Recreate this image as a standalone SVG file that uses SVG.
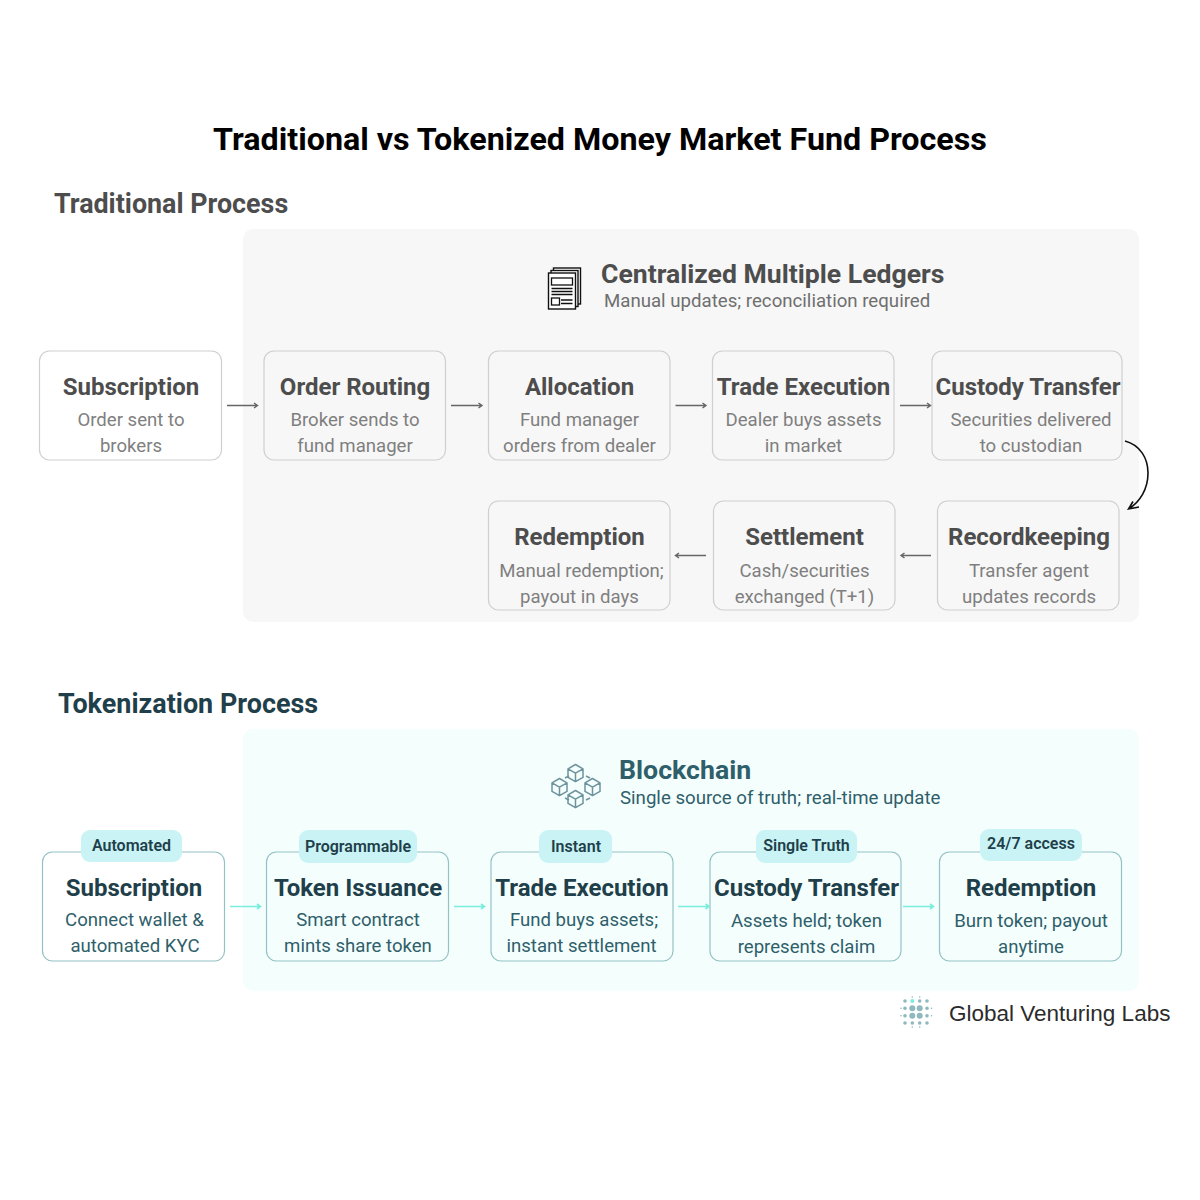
<svg xmlns="http://www.w3.org/2000/svg" width="1200" height="1200" viewBox="0 0 1200 1200">
<style>
text{font-family:Roboto,"Liberation Sans",sans-serif}
.m{text-anchor:middle}
.n{fill:none;stroke:#cfcfcf;stroke-width:1.2}
.b{stroke:#93c2c5;stroke-width:1.2;fill:none}
.t1{font-size:24px;font-weight:700;fill:#4d4d4d;text-anchor:middle}
.s1{font-size:18.6px;fill:#7f7f7f;text-anchor:middle}
.t2{font-size:24px;font-weight:700;fill:#1f3f4a;text-anchor:middle}
.s2{font-size:18.6px;fill:#2f5f6b;text-anchor:middle}
.p{fill:#c9f3f5}
.pt{font-size:16px;font-weight:600;fill:#1f3f4a;text-anchor:middle}
.a1{fill:none;stroke:#666;stroke-width:1.4}
.a2{fill:none;stroke:#7aeedd;stroke-width:1.6}
.ic{fill:none;stroke:#6d939e;stroke-width:1.5;stroke-linejoin:round}
.ik{fill:#fff;stroke:#111;stroke-width:1.4}
.il{fill:none;stroke:#111;stroke-width:1.3}
.d{fill:#8fb9bd}
</style>
<rect width="1200" height="1200" fill="#fff"/>
<text x="600" y="150" class="m" font-size="32.25" font-weight="700" fill="#000">Traditional vs Tokenized Money Market Fund Process</text>
<text x="54" y="212.500" font-size="26.85" font-weight="700" fill="#4d4d4d">Traditional Process</text>
<text x="58" y="712.500" font-size="26.95" font-weight="700" fill="#1f3f4a">Tokenization Process</text>

<g id="panel-traditional">
<rect x="243" y="229" width="896" height="393" rx="10" fill="#f7f7f7"/>
<g id="ledger-icon">
<rect x="553.500" y="268" width="27" height="36" class="ik"/>
<rect x="551" y="270.500" width="27" height="36" class="ik"/>
<rect x="548.500" y="273" width="27" height="36" class="ik"/>
<rect x="551.500" y="278" width="21" height="7" class="il"/>
<path d="M551.500 288.500H572.500M551.500 291.500H572.500M551.500 294.500H572.500M561 300H572.500M561 303.500H572.500" class="il"/>
<rect x="551.500" y="298" width="8" height="7" class="il"/>
</g>
<text x="601" y="283" font-size="26.6" font-weight="700" fill="#4d4d4d">Centralized Multiple Ledgers</text>
<text x="604" y="307" font-size="18.65" fill="#6f6f6f">Manual updates; reconciliation required</text>
</g>

<g id="panel-tokenization">
<rect x="243" y="729" width="896" height="262" rx="10" fill="#f4fefd"/>
<g id="blockchain-icon">
<path d="M565 778l4-2M586 776l4 2M565 798l4 2M586 800l4-2" class="ic"/>
<path d="M575.500 764.500l7.500 4.300v8.600l-7.500 4.300-7.500-4.300v-8.600zM568 768.800l7.500 4.300 7.500-4.300M575.500 773.100v8.600" class="ic"/>
<path d="M559.500 778.500l7.500 4.300v8.600l-7.500 4.300-7.500-4.300v-8.600zM552 782.800l7.500 4.300 7.500-4.300M559.500 787.100v8.600" class="ic"/>
<path d="M592.500 778.500l7.500 4.300v8.600l-7.500 4.300-7.500-4.300v-8.600zM585 782.800l7.500 4.300 7.500-4.300M592.500 787.100v8.600" class="ic"/>
<path d="M575.500 790.500l7.500 4.300v8.600l-7.500 4.300-7.500-4.300v-8.600zM568 794.800l7.500 4.300 7.500-4.300M575.500 799.100v8.600" class="ic"/>
</g>
<text x="619" y="778.500" font-size="26.7" font-weight="700" fill="#2f5f6b">Blockchain</text>
<text x="620" y="804" font-size="18.65" fill="#2f5f6b">Single source of truth; real-time update</text>
</g>

<g id="t-subscription"><rect class="n" x="39.500" y="351" width="182" height="109" rx="10"/><text x="131" y="395" class="t1">Subscription</text><text x="131" y="426" class="s1">Order sent to</text><text x="131" y="452" class="s1">brokers</text></g>
<g id="t-order-routing"><rect class="n" x="264" y="351" width="181.500" height="109" rx="10"/><text x="355" y="395" class="t1">Order Routing</text><text x="355" y="426" class="s1">Broker sends to</text><text x="355" y="452" class="s1">fund manager</text></g>
<g id="t-allocation"><rect class="n" x="488.500" y="351" width="181.500" height="109" rx="10"/><text x="579.500" y="395" class="t1">Allocation</text><text x="579.500" y="426" class="s1">Fund manager</text><text x="579.500" y="452" class="s1">orders from dealer</text></g>
<g id="t-trade-execution"><rect class="n" x="712.500" y="351" width="181.500" height="109" rx="10"/><text x="803.500" y="395" class="t1">Trade Execution</text><text x="803.500" y="426" class="s1">Dealer buys assets</text><text x="803.500" y="452" class="s1">in market</text></g>
<g id="t-custody-transfer"><rect class="n" x="932" y="351" width="190" height="109" rx="10"/><text x="1028" y="395" class="t1">Custody Transfer</text><text x="1031" y="426" class="s1">Securities delivered</text><text x="1031" y="452" class="s1">to custodian</text></g>
<g id="t-redemption"><rect class="n" x="488.500" y="501" width="181.500" height="109" rx="10"/><text x="579.500" y="545" class="t1">Redemption</text><text x="581.500" y="577" class="s1">Manual redemption;</text><text x="579.500" y="603" class="s1">payout in days</text></g>
<g id="t-settlement"><rect class="n" x="713.500" y="501" width="181.500" height="109" rx="10"/><text x="804.500" y="545" class="t1">Settlement</text><text x="804.500" y="577" class="s1">Cash/securities</text><text x="804.500" y="603" class="s1">exchanged (T+1)</text></g>
<g id="t-recordkeeping"><rect class="n" x="937.500" y="501" width="181.500" height="109" rx="10"/><text x="1029" y="545" class="t1">Recordkeeping</text><text x="1029" y="577" class="s1">Transfer agent</text><text x="1029" y="603" class="s1">updates records</text></g>

<g id="k-subscription"><rect class="b" x="42.500" y="852" width="182" height="109" rx="10"/><rect class="p" x="81" y="830" width="101" height="32" rx="9"/><text x="131.500" y="851" class="pt">Automated</text><text x="134" y="896" class="t2">Subscription</text><text x="134.500" y="926" class="s2">Connect wallet &amp;</text><text x="135" y="952" class="s2">automated KYC</text></g>
<g id="k-token-issuance"><rect class="b" x="266.500" y="852" width="182" height="109" rx="10"/><rect class="p" x="299" y="830" width="118" height="33" rx="9"/><text x="358" y="852" class="pt">Programmable</text><text x="358" y="896" class="t2">Token Issuance</text><text x="358" y="926" class="s2">Smart contract</text><text x="358" y="952" class="s2">mints share token</text></g>
<g id="k-trade-execution"><rect class="b" x="491" y="852" width="182" height="109" rx="10"/><rect class="p" x="539" y="830" width="73" height="33" rx="9"/><text x="576" y="852" class="pt">Instant</text><text x="582" y="896" class="t2">Trade Execution</text><text x="584" y="926" class="s2">Fund buys assets;</text><text x="581.500" y="952" class="s2">instant settlement</text></g>
<g id="k-custody-transfer"><rect class="b" x="710" y="852" width="191" height="109" rx="10"/><rect class="p" x="756" y="830" width="101" height="33" rx="9"/><text x="806.500" y="851" class="pt">Single Truth</text><text x="806.500" y="896" class="t2">Custody Transfer</text><text x="806.500" y="927" class="s2">Assets held; token</text><text x="806.500" y="953" class="s2">represents claim</text></g>
<g id="k-redemption"><rect class="b" x="939.500" y="852" width="182" height="109" rx="10"/><rect class="p" x="980" y="829" width="102" height="32" rx="9"/><text x="1031" y="849" class="pt">24/7 access</text><text x="1031" y="896" class="t2">Redemption</text><text x="1031" y="927" class="s2">Burn token; payout</text><text x="1031" y="953" class="s2">anytime</text></g>

<g id="connectors">
<path class="a1" d="M227 405.500H257M254 403l3.500 2.500-3.500 2.500"/>
<path class="a1" d="M451 405.500H482M478.500 403l3.500 2.500-3.500 2.500"/>
<path class="a1" d="M675.500 405.500H706M702.500 403l3.500 2.500-3.500 2.500"/>
<path class="a1" d="M900 405.500H930.500M927 403l3.500 2.500-3.500 2.500"/>
<path class="a1" d="M706 555.500H675.500M679 553l-3.500 2.500 3.500 2.500"/>
<path class="a1" d="M931 555.500H901M904.500 553l-3.500 2.500 3.500 2.500"/>
<path fill="none" stroke="#111" stroke-width="1.600" d="M1125 441C1140 445 1148 458 1148 473C1148 489 1140 502 1128.500 509M1133 501.500L1128.500 509L1139 507"/>
<path class="a2" d="M230 906.500H260.500M257 904l3.500 2.500-3.500 2.500"/>
<path class="a2" d="M454 906.500H484.500M481 904l3.500 2.500-3.500 2.500"/>
<path class="a2" d="M678 906.500H709M705.500 904l3.500 2.500-3.500 2.500"/>
<path class="a2" d="M903 906.500H933.500M930 904l3.500 2.500-3.500 2.500"/>
</g>

<g id="logo">
<circle cx="912.300" cy="1001" r="2" fill="#7aeedd"/>
<circle class="d" cx="905" cy="1001" r="1.800"/><circle class="d" cx="919.700" cy="1001" r="1.800"/><circle class="d" cx="927" cy="1001" r="1.800"/>
<circle class="d" cx="912.300" cy="1008.300" r="3"/><circle class="d" cx="919.700" cy="1008.300" r="3"/><circle class="d" cx="912.300" cy="1015.700" r="3"/><circle class="d" cx="919.700" cy="1015.700" r="3"/>
<circle class="d" cx="905" cy="1008.300" r="1.800"/><circle class="d" cx="927" cy="1008.300" r="1.800"/><circle class="d" cx="905" cy="1015.700" r="1.800"/><circle class="d" cx="927" cy="1015.700" r="1.800"/>
<circle class="d" cx="905" cy="1023" r="1.800"/><circle class="d" cx="912.300" cy="1023" r="1.800"/><circle class="d" cx="919.700" cy="1023" r="1.800"/><circle class="d" cx="927" cy="1023" r="1.800"/>
<circle class="d" cx="912.300" cy="997" r=".8"/><circle class="d" cx="919.700" cy="997" r=".8"/><circle class="d" cx="912.300" cy="1027" r=".8"/><circle class="d" cx="919.700" cy="1027" r=".8"/><circle class="d" cx="901" cy="1008.300" r=".8"/><circle class="d" cx="901" cy="1015.700" r=".8"/><circle class="d" cx="931.500" cy="1008.300" r=".8"/><circle class="d" cx="931.500" cy="1015.700" r=".8"/>
<text x="949" y="1020.500" font-size="22.5" style="font-family:'Liberation Sans',Arial,sans-serif" fill="#2b2b2b">Global Venturing Labs</text>
</g>
</svg>
